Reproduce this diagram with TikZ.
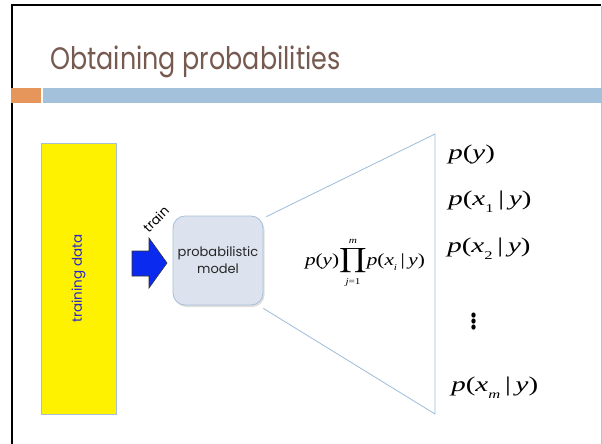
\documentclass[tikz,border=0pt]{standalone}
\usepackage{amsmath}
\usepackage{fontspec}
\setmainfont{Liberation Serif}
\newfontfamily\gothic{Poppins}
\usetikzlibrary{shadows}
\definecolor{titlec}{HTML}{76594F}
\definecolor{orbar}{HTML}{E6965A}
\definecolor{blbar}{HTML}{A3C1DA}
\definecolor{fanc}{HTML}{9DBCD9}
\definecolor{boxfill}{HTML}{DCE3EE}
\definecolor{boxdraw}{HTML}{A8BFD8}
\definecolor{datatext}{HTML}{2626CC}
\definecolor{arrowblue}{HTML}{0A2AF0}
\newcommand\mi[1]{\textit{#1}}
\newcommand\lowsub[1]{\raisebox{-0.32em}{\fontsize{12}{12}\selectfont #1}}
\tikzset{
  fanline/.style={draw=fanc, line width=0.8pt},
  eqn/.style={font=\fontsize{21}{24}\selectfont, inner sep=0, anchor=west, xscale=1.38},
  sanslabel/.style={font=\gothic\fontsize{13}{16}\selectfont, inner sep=0, align=center}
}
\begin{document}
\begin{tikzpicture}[x=1pt,y=-1pt]
\useasboundingbox (0,0) rectangle (602,444);
\fill[white] (0,0) rectangle (602,444);
% slide frame
\draw[line width=2pt] (12,444) -- (12,5.5) -- (601,5.5);
\draw[black!25, line width=1pt] (601,6.5) -- (601,444);
% header bars
\fill[orbar] (11,88) rectangle (41,103);
\fill[blbar] (43,88) rectangle (602,103);
\node[anchor=base west, font=\gothic\fontsize{31}{36}\selectfont, text=titlec, inner sep=0, xscale=0.82] (title) at (50,70) {Obtaining probabilities};
% training data
\node[draw=boxdraw, fill=yellow, rotate=90, minimum width=271, minimum height=75, inner sep=0,
  font=\gothic\fontsize{13.5}{16}\selectfont, text=datatext] (data) at (78.5,278.5) {training data};
% arrow
\draw[fill=arrowblue, draw=black!80, line width=0.6pt] (132,251) -- (149,251) -- (149,238) -- (167,263) -- (149,288) -- (149,276) -- (132,276) -- cycle;
\node[sanslabel, rotate=45] (train) at (156,219) {train};
% model
\node[draw=boxdraw, fill=boxfill, rounded corners=12, minimum width=90, minimum height=89,
  line width=0.8pt, drop shadow={opacity=0.25, shadow xshift=1.5pt, shadow yshift=-2pt},
  sanslabel, text=black!85] (model) at (218,260.5) {probabilistic\\[1pt]model};
% fan
\coordinate (ft) at (435,134);
\coordinate (fb) at (435,414);
\draw[fanline] ([xshift=3pt,yshift=-1pt]model.north east) -- (ft) -- (fb) -- ([yshift=-3pt]model.south east);
% middle formula
\node[inner sep=0, font=\fontsize{17}{19}\selectfont, xscale=1.25] (joint) at (365,263)
  {\mi{p}(\mi{y})$\displaystyle\prod_{\mbox{\fontsize{9}{9}\selectfont\mi{j}=1}}^{\mbox{\fontsize{9}{9}\selectfont\mi{m}}}$\mi{p}(\mi{x}\raisebox{-0.3em}{\fontsize{9}{9}\selectfont\mi{i}}\,|\,\mi{y})};
% right column
\node[eqn] (py) at (448,154) {\mi{p}(\mi{y})};
\node[eqn] (px1) at (448,202) {\mi{p}(\mi{x}\lowsub{1}\,|\,\mi{y})};
\node[eqn] (px2) at (447,249) {\mi{p}(\mi{x}\lowsub{2}\,|\,\mi{y})};
\node[inner sep=0, font=\fontsize{36}{36}\selectfont, yscale=1.2] (dots) at (474,318) {$\vdots$};
\node[eqn] (pxm) at (451,388) {\mi{p}(\mi{x}\lowsub{\mi{m}}\,|\,\mi{y})};
\end{tikzpicture}
\end{document}
